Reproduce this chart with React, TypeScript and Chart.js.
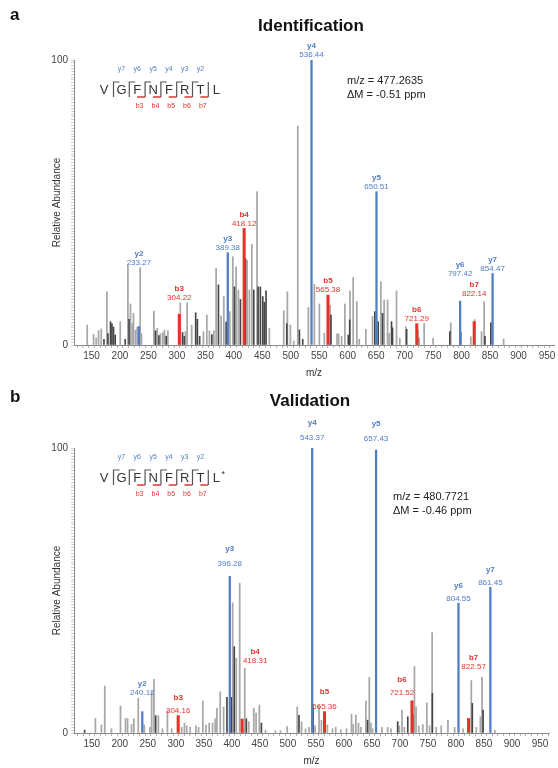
import React, { useEffect, useRef } from 'react';
import { Chart, registerables } from 'chart.js';

Chart.register(...registerables);

const FONT = "'Liberation Sans', Arial, Helvetica, sans-serif";
Chart.defaults.font.family = FONT;

// x tick labels shared by both panels
const xTickLabels = [150, 200, 250, 300, 350, 400, 450, 500, 550, 600, 650, 700, 750, 800, 850, 900, 950];

// ---------- panel a : Identification ----------
const lightMzA = [142.5, 153.6, 158.3, 162.4, 167.1, 177.1, 200.5, 214.0, 218.5, 221.5, 223.8, 227.3, 230.3, 235.5, 237.8,
  259.6, 265.4, 271.2, 275.4, 278.2, 284.2, 306.0, 315.0, 318.0, 326.0, 346.6, 352.6, 357.2, 364.9, 368.9, 377.7, 382.4,
  393.0, 398.2, 404.0, 408.0, 423.3, 427.3, 431.6, 440.8, 462.4, 487.7, 494.0, 499.3, 505.3, 512.3, 530.9, 541.4, 550.2,
  559.0, 569.0, 581.2, 584.0, 589.3, 595.0, 604.0, 609.6, 616.0, 620.2, 631.9, 643.6, 658.2, 664.0, 670.0, 672.8, 685.7,
  691.5, 702.0, 725.5, 734.3, 750.0, 781.0, 816.2, 823.0, 835.0, 839.6, 873.8];
const lightIntA = [7.0, 3.7, 2.5, 5.0, 5.6, 18.7, 8.2, 28.0, 14.4, 7.6, 11.1, 5.2, 6.2, 27.1, 4.0,
  11.9, 5.8, 4.0, 4.4, 5.3, 5.0, 14.8, 4.7, 14.8, 7.0, 4.7, 10.5, 5.0, 5.0, 26.9, 10.2, 17.0,
  11.7, 31.0, 27.4, 19.3, 29.8, 19.3, 35.4, 53.8, 5.8, 12.0, 18.7, 7.0, 1.4, 76.8, 13.2, 21.3, 14.4,
  4.1, 14.0, 3.9, 3.9, 3.0, 14.4, 19.0, 23.7, 15.2, 2.0, 5.5, 10.0, 22.2, 15.8, 15.8, 4.1, 19.0,
  2.3, 6.4, 2.5, 7.5, 2.3, 7.8, 2.9, 8.9, 4.7, 15.2, 2.1];
const darkMzA = [171.9, 178.9, 183.4, 185.9, 188.7, 191.7, 209.2, 216.0, 262.4, 268.4, 281.2, 310.0, 313.0, 333.0, 336.0,
  340.0, 361.4, 373.0, 386.5, 401.0, 411.6, 420.3, 435.0, 442.6, 446.6, 450.8, 453.6, 456.6, 493.0, 515.2, 521.0, 570.6,
  601.0, 603.5, 647.6, 653.5, 661.2, 677.0, 678.7, 703.5, 722.7, 779.3, 798.5, 841.0, 851.4];
const darkIntA = [2.0, 4.0, 8.2, 7.5, 6.3, 3.5, 2.0, 9.0, 5.0, 3.3, 3.1, 4.4, 3.0, 11.3, 9.0,
  3.0, 3.7, 21.1, 8.0, 20.4, 16.0, 30.4, 19.3, 20.4, 20.4, 17.0, 15.0, 19.0, 7.5, 5.3, 2.0, 10.5,
  3.5, 8.8, 11.7, 8.2, 11.1, 8.2, 6.0, 5.5, 5.3, 4.7, 4.5, 3.0, 7.8];
const yIonNamesA = ['y2', 'y3', 'y4', 'y5', 'y6', 'y7'];
const yIonMzA = [233.27, 389.38, 536.44, 650.51, 797.42, 854.47];
const yIonIntA = [6.5, 32.4, 100, 53.8, 15.4, 25.1];
const bIonNamesA = ['b3', 'b4', 'b5', 'b6', 'b7'];
const bIonMzA = [304.22, 418.12, 565.38, 721.29, 822.14];
const bIonIntA = [10.8, 40.9, 17.5, 7.5, 8.2];

// ---------- panel b : Validation ----------
const lightMzB = [156.4, 167.2, 173.1, 185.0, 201.2, 210.1, 213.8, 220.9, 225.1, 232.9, 243.7, 253.7, 256.8, 260.9, 268.8,
  276.0, 285.0, 292.6, 310.6, 315.4, 319.5, 325.5, 335.7, 340.5, 348.2, 353.6, 359.5, 365.6, 370.3, 373.3, 379.2, 385.3,
  401.5, 407.9, 414.0, 419.4, 423.0, 430.1, 439.1, 443.2, 449.1, 460.0, 477.8, 486.8, 498.8, 516.7, 524.4, 531.6, 537.7,
  548.5, 555.6, 559.8, 570.5, 579.5, 585.4, 594.4, 604.6, 613.6, 616.6, 621.3, 626.0, 630.2, 639.2, 645.3, 648.2, 651.2,
  667.9, 678.1, 684.0, 699.0, 703.7, 708.0, 725.9, 728.8, 733.7, 740.8, 748.0, 752.8, 757.5, 764.7, 773.7, 785.7, 797.7,
  812.6, 827.4, 836.4, 843.6, 846.6, 869.4];
const lightIntB = [5.1, 2.8, 16.5, 1.5, 9.5, 5.1, 5.1, 3.0, 5.0, 12.2, 2.8, 2.0, 14.5, 18.8, 6.1,
  1.5, 7.9, 1.5, 2.0, 3.5, 2.5, 2.0, 2.5, 2.0, 11.2, 2.8, 3.5, 3.5, 5.0, 8.7, 14.5, 9.1,
  45.7, 26.2, 52.5, 2.0, 22.7, 4.0, 8.7, 7.0, 9.8, 1.0, 0.8, 0.8, 2.3, 9.2, 3.9, 1.5, 2.0,
  2.5, 9.5, 4.5, 2.8, 1.5, 2.0, 1.2, 1.5, 6.6, 3.0, 6.3, 3.5, 2.0, 11.2, 19.5, 3.5, 1.5,
  2.0, 2.0, 1.5, 2.5, 8.0, 2.0, 23.3, 9.2, 2.5, 3.0, 10.6, 2.5, 35.2, 2.0, 2.5, 4.5, 2.0,
  1.5, 18.4, 2.0, 5.7, 19.5, 1.0];
const darkMzB = [137.2, 264.0, 391.2, 399.0, 404.3, 425.8, 452.7, 519.8, 544.9, 642.2, 696.0, 714.0, 722.9, 757.9, 829.2, 848.4];
const darkIntB = [1.0, 6.1, 12.5, 12.5, 30.3, 5.0, 3.5, 6.2, 9.2, 4.5, 4.0, 5.7, 6.5, 13.9, 10.4, 8.0];
const yIonNamesB = ['y2', 'y3', 'y4', 'y5', 'y6', 'y7'];
const yIonMzB = [240.12, 396.28, 543.37, 657.43, 804.55, 861.45];
const yIonIntB = [7.5, 55, 100, 99.3, 45.5, 51.1];
const bIonNamesB = ['b3', 'b4', 'b5', 'b6', 'b7'];
const bIonMzB = [304.16, 418.31, 565.36, 721.52, 822.57];
const bIonIntB = [6.1, 4.9, 7.5, 11.3, 5.1];

const BLUE = '#4f7dc6';
const RED = '#e5332b';
const LIGHT = '#a8a8a8';
const DARK = '#454545';

const toPoints = (mz: number[], val: number[]) => mz.map((m, i) => ({ x: m, y: val[i] }));

// ion labels above annotated peaks
const ionLabelPlugin = {
  id: 'ionLabels',
  afterDatasetsDraw(chart: any, _args: any, opts: any) {
    const { ctx } = chart;
    const xs = chart.scales.x;
    const ys = chart.scales.y;
    const all: { x: number; y: number }[] = chart.data.datasets.flatMap((d: any) => d.data);
    chart.data.datasets.forEach((ds: any) => {
      if (!ds.ionNames) return;
      ds.data.forEach((p: { x: number; y: number }, i: number) => {
        const name = ds.ionNames[i];
        const ov = (opts.overrides && opts.overrides[name]) || {};
        const near = all
          .filter((q) => Math.abs(q.x - p.x) <= 8)
          .reduce((m, q) => Math.max(m, q.y), p.y);
        const at = ov.at ?? near;
        const px = xs.getPixelForValue(p.x) + (ov.dx || 0);
        const py = ys.getPixelForValue(at) - 5;
        ctx.save();
        ctx.fillStyle = ds.labelColor;
        ctx.textAlign = 'center';
        ctx.textBaseline = 'middle';
        ctx.font = `8px ${FONT}`;
        ctx.fillText(p.x.toFixed(2), px, py);
        ctx.font = `bold 8px ${FONT}`;
        ctx.fillText(name, px, py - (ov.gap ?? opts.gap));
        ctx.restore();
      });
    });
  },
};

// peptide fragment map in the top-left corner
const peptidePlugin = {
  id: 'peptide',
  afterDraw(chart: any, _args: any, o: any) {
    const ctx = chart.ctx;
    const lx = 113.5;
    const step = 15.8;
    const top = 82;
    const bot = 97;
    const residues = 'GFNFRTL';
    const yNames = ['y7', 'y6', 'y5', 'y4', 'y3', 'y2'];
    const bNames = ['b3', 'b4', 'b5', 'b6', 'b7'];
    ctx.save();
    ctx.fillStyle = '#333';
    ctx.textAlign = 'center';
    ctx.textBaseline = 'middle';
    ctx.font = `13px ${FONT}`;
    ctx.fillText('V', 104, 90);
    for (let k = 0; k < residues.length; k++) ctx.fillText(residues[k], lx + k * step + 8, 90);
    if (o.star) {
      ctx.font = `9px ${FONT}`;
      ctx.fillText('*', lx + 6 * step + 15, 87);
    }
    ctx.lineWidth = 1.2;
    ctx.strokeStyle = '#555';
    for (let k = 0; k < 7; k++) {
      const x = lx + k * step;
      ctx.beginPath();
      ctx.moveTo(x, bot);
      ctx.lineTo(x, top);
      if (k < 6) ctx.lineTo(x + 6, top);
      ctx.stroke();
    }
    ctx.strokeStyle = RED;
    ctx.lineWidth = 1.5;
    for (let k = 2; k < 7; k++) {
      const x = lx + k * step;
      ctx.beginPath();
      ctx.moveTo(x - 8, bot);
      ctx.lineTo(x, bot);
      ctx.stroke();
    }
    ctx.font = `7px ${FONT}`;
    ctx.fillStyle = BLUE;
    yNames.forEach((n, k) => ctx.fillText(n, lx + k * step + 8, 69));
    ctx.fillStyle = RED;
    bNames.forEach((n, k) => ctx.fillText(n, lx + (k + 2) * step - 5.5, 106));
    ctx.restore();
  },
};

// panel letter, title and precursor text
const decorPlugin = {
  id: 'decor',
  afterDraw(chart: any, _args: any, o: any) {
    const ctx = chart.ctx;
    ctx.save();
    ctx.fillStyle = '#111';
    ctx.textBaseline = 'middle';
    ctx.font = `bold 17px ${FONT}`;
    ctx.textAlign = 'left';
    ctx.fillText(o.letter, 10, o.letterY);
    ctx.textAlign = 'center';
    ctx.fillText(o.title, o.titleX, o.titleY);
    ctx.font = `11px ${FONT}`;
    ctx.fillStyle = '#222';
    ctx.textAlign = 'left';
    o.mass.forEach((t: string, i: number) => ctx.fillText(t, o.massX, o.massY + i * o.massGap));
    ctx.restore();
  },
};

interface PanelProps {
  top: number;
  lightMz: number[];
  lightInt: number[];
  darkMz: number[];
  darkInt: number[];
  yMz: number[];
  yInt: number[];
  yNames: string[];
  bMz: number[];
  bInt: number[];
  bNames: string[];
  xMin: number;
  xMax: number;
  padRight: number;
  labelGap: number;
  overrides: Record<string, { at?: number; dx?: number; gap?: number }>;
  decor: any;
  star: boolean;
}

const SpectrumPanel: React.FC<PanelProps> = (p) => {
  const canvasRef = useRef<HTMLCanvasElement>(null);

  useEffect(() => {
    if (!canvasRef.current) return;
    const ctx = canvasRef.current.getContext('2d');
    if (!ctx) return;

    const chart = new Chart(ctx, {
      type: 'bar',
      data: {
        datasets: [
          {
            data: toPoints(p.yMz, p.yInt),
            backgroundColor: BLUE,
            barThickness: 1.6,
            grouped: false,
            ionNames: p.yNames,
            labelColor: BLUE,
          } as any,
          {
            data: toPoints(p.bMz, p.bInt),
            backgroundColor: RED,
            barThickness: 2.4,
            grouped: false,
            ionNames: p.bNames,
            labelColor: RED,
          } as any,
          {
            data: toPoints(p.darkMz, p.darkInt),
            backgroundColor: DARK,
            barThickness: 1,
            grouped: false,
          },
          {
            data: toPoints(p.lightMz, p.lightInt),
            backgroundColor: LIGHT,
            barThickness: 1.1,
            grouped: false,
          },
        ],
      },
      options: {
        animation: false,
        responsive: true,
        maintainAspectRatio: false,
        events: [],
        layout: { padding: { top: 60, left: 47, right: p.padRight, bottom: 0 } },
        plugins: {
          legend: { display: false },
          tooltip: { enabled: false },
          ionLabels: { gap: p.labelGap, overrides: p.overrides },
          peptide: { star: p.star },
          decor: p.decor,
        } as any,
        scales: {
          x: {
            type: 'linear',
            min: p.xMin,
            max: p.xMax,
            offset: false,
            border: { color: '#8a8a8a', width: 1 },
            grid: { drawOnChartArea: false, drawTicks: true, tickLength: 3, color: '#a0a0a0', tickWidth: 0.8 },
            ticks: {
              stepSize: 10,
              autoSkip: false,
              includeBounds: false,
              maxRotation: 0,
              padding: 2,
              color: '#444',
              font: { size: 10 },
              callback: (v: any) => (xTickLabels.includes(Number(v)) ? String(v) : ''),
            },
            title: { display: true, text: 'm/z', color: '#333', font: { size: 10 }, padding: { top: 0, bottom: 1 } },
            afterFit: (s: any) => {
              s.height = 35;
            },
          },
          y: {
            min: 0,
            max: 100,
            border: { color: '#8a8a8a', width: 1 },
            grid: { drawOnChartArea: false, drawTicks: true, tickLength: 3, color: '#b0b0b0', tickWidth: 0.6 },
            ticks: {
              stepSize: 1,
              autoSkip: false,
              includeBounds: false,
              padding: 3,
              color: '#444',
              font: { size: 10 },
              callback: (v: any) => (v === 0 || v === 100 ? String(v) : ''),
            },
            title: { display: true, text: 'Relative Abundance', color: '#333', font: { size: 10 }, padding: { top: 4, bottom: 0 } },
            afterFit: (s: any) => {
              s.width = 27;
            },
          },
        },
      },
      plugins: [ionLabelPlugin, peptidePlugin, decorPlugin],
    });

    return () => {
      chart.destroy();
    };
  }, []);

  return (
    <div style={{ position: 'absolute', left: 0, top: p.top, width: 558, height: 380 }}>
      <canvas ref={canvasRef}></canvas>
    </div>
  );
};

const App: React.FC = () => {
  return (
    <div style={{ position: 'absolute', left: 0, top: 0, width: 558, height: 768, background: '#fff' }}>
      <SpectrumPanel
        top={0}
        lightMz={lightMzA}
        lightInt={lightIntA}
        darkMz={darkMzA}
        darkInt={darkIntA}
        yMz={yIonMzA}
        yInt={yIonIntA}
        yNames={yIonNamesA}
        bMz={bIonMzA}
        bInt={bIonIntA}
        bNames={bIonNamesA}
        xMin={119.3}
        xMax={962.3}
        padRight={4}
        labelGap={9}
        overrides={{ y6: { at: 23.1 }, b7: { at: 16.1 } }}
        star={false}
        decor={{
          letter: 'a',
          letterY: 15,
          title: 'Identification',
          titleX: 311,
          titleY: 26,
          mass: ['m/z = 477.2635', 'ΔM = -0.51 ppm'],
          massX: 347,
          massY: 81,
          massGap: 14,
        }}
      />
      <SpectrumPanel
        top={388}
        lightMz={lightMzB}
        lightInt={lightIntB}
        darkMz={darkMzB}
        darkInt={darkIntB}
        yMz={yIonMzB}
        yInt={yIonIntB}
        yNames={yIonNamesB}
        bMz={bIonMzB}
        bInt={bIonIntB}
        bNames={bIonNamesB}
        xMin={118.2}
        xMax={966.1}
        padRight={9}
        labelGap={13}
        overrides={{
          y3: { at: 57.5, gap: 15 },
          y4: { at: 102, gap: 15 },
          y5: { at: 101.3, gap: 15 },
          b4: { at: 23.6, dx: 13, gap: 9 },
          b5: { gap: 15 },
          b6: { at: 12.2, dx: -10 },
          b7: { at: 21.5, dx: 5, gap: 9 },
          y2: { gap: 9 },
        }}
        star={true}
        decor={{
          letter: 'b',
          letterY: 9,
          title: 'Validation',
          titleX: 310,
          titleY: 13,
          mass: ['m/z = 480.7721', 'ΔM = -0.46 ppm'],
          massX: 393,
          massY: 109,
          massGap: 13.5,
        }}
      />
    </div>
  );
};

export default App;
